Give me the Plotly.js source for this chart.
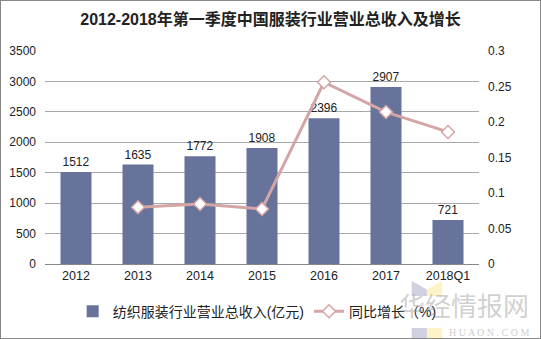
<!DOCTYPE html>
<html><head><meta charset="utf-8">
<script src="https://cdn.plot.ly/plotly-3.0.1.min.js"></script>
<style>body{margin:0;padding:0;background:#fff}#c{width:539px;height:337px;border:1px solid #888}</style>
</head><body><div id="c"></div>
<script>
const categories = ["2012","2013","2014","2015","2016","2017","2018Q1"];
const revenue = [1512,1635,1772,1908,2396,2907,721];
const growthCats = ["2013","2014","2015","2016","2017","2018Q1"];
const growth = [0.080,0.0845,0.0775,0.256,0.214,0.186];
const leftTicks = [0,500,1000,1500,2000,2500,3000,3500];
const rightTicks = [0,0.05,0.1,0.15,0.2,0.25,0.3];

const font = "Liberation Sans, Arial, Noto Sans CJK SC, sans-serif";
const traces = [
 {type:"bar", x:categories, y:revenue, name:"纺织服装行业营业总收入(亿元)",
  marker:{color:"#67739a"}, text:revenue.map(String), textposition:"outside",
  textfont:{size:12,color:"#222",family:font}, cliponaxis:false},
 {type:"scatter", mode:"lines+markers", x:growthCats, y:growth, yaxis:"y2",
  name:"同比增长（%)", line:{color:"#d4a5a5",width:3},
  marker:{symbol:"diamond",size:10,color:"#fff",line:{color:"#d4a5a5",width:1.5}}}
];
const layout = {
 width:539, height:337, margin:{l:44,r:61,t:50,b:74},
 paper_bgcolor:"#fff", plot_bgcolor:"#fff",
 font:{family:font,size:12,color:"#222"},
 title:{text:"<b>2012-2018年第一季度中国服装行业营业总收入及增长</b>", x:0.5, xanchor:"center", y:0.945, yanchor:"middle",
  font:{size:16,color:"#222",family:font}},
 bargap:0.5, showlegend:true,
 xaxis:{type:"category", showline:true, linecolor:"#888", linewidth:1, ticks:"", tickfont:{size:12.5,color:"#222"}},
 yaxis:{range:[0,3500], tickvals:leftTicks, showgrid:true, gridcolor:"#a8a8a8", zeroline:false, showline:false, ticks:"", tickfont:{size:12,color:"#222"}, ticklabelstandoff:8},
 yaxis2:{overlaying:"y", side:"right", range:[0,0.3], tickvals:rightTicks, showgrid:false, zeroline:false, showline:false, tickfont:{size:12,color:"#222"}, ticklabelstandoff:8},
 legend:{orientation:"h", x:0.133, xanchor:"left", xref:"container", y:0.078, yref:"container", yanchor:"middle", font:{size:14,color:"#222"}, itemwidth:30, tracegroupgap:0},
 annotations:[
  {xref:"paper",yref:"paper",x:1.12,y:-0.19,xanchor:"right",yanchor:"middle",text:"华经情报网",showarrow:false,font:{size:26,color:"rgba(150,150,150,0.45)",family:"Noto Sans CJK SC"}},
  {xref:"paper",yref:"paper",x:1.12,y:-0.32,xanchor:"right",yanchor:"middle",text:"H U A O N . C O M",showarrow:false,font:{size:10,color:"rgba(150,150,150,0.5)",family:"Liberation Serif"}}
 ],
 shapes:[
  {type:"path",xref:"paper",yref:"paper",path:"M 0.845 -0.08 L 0.88 -0.12 L 0.88 -0.42 L 0.845 -0.38 Z",fillcolor:"rgba(120,120,170,0.35)",line:{width:0}},
  {type:"path",xref:"paper",yref:"paper",path:"M 0.88 -0.12 L 0.915 -0.08 L 0.915 -0.38 L 0.88 -0.42 Z",fillcolor:"rgba(250,220,100,0.35)",line:{width:0}}
 ]
};
Plotly.newPlot("c", traces, layout, {displayModeBar:false, staticPlot:true});
</script></body></html>
